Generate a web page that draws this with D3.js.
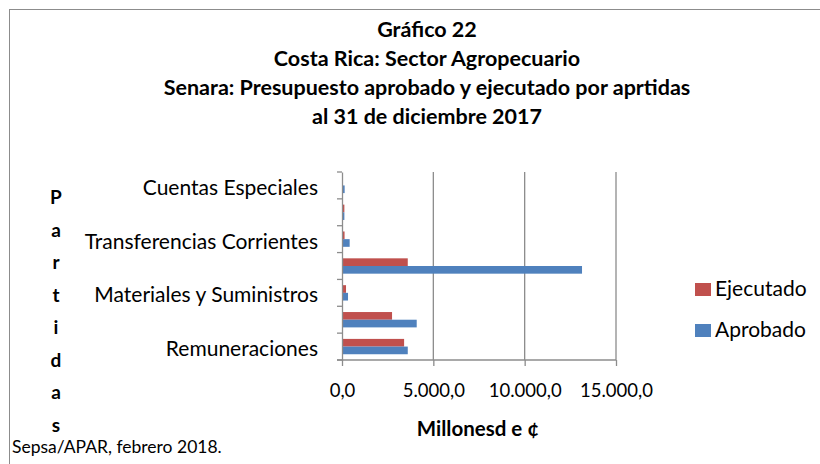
<!DOCTYPE html>
<html><head><meta charset="utf-8">
<script src="https://cdn.jsdelivr.net/npm/d3@7"></script>
<style>body{margin:0;background:#fff}svg{display:block}</style>
</head><body>
<svg id="c" width="820" height="464"></svg>
<script>
const categories = ["Remuneraciones","Servicios","Materiales y Suministros","Bienes Duraderos","Transferencias Corrientes","Transferencias de Capital","Cuentas Especiales"];
const showLabel = [true,false,true,false,true,false,true];
const aprobado = [3600,4090,330,13140,420,130,145];
const ejecutado = [3400,2740,220,3600,140,130,0];
const series = ["Ejecutado","Aprobado"];
const colors = {"Ejecutado":"#C0504D","Aprobado":"#4F81BD"};
const xTicks = [0,5000,10000,15000];
const titleLines = ["Gráfico 22","Costa Rica: Sector Agropecuario","Senara: Presupuesto aprobado  y ejecutado por aprtidas","al 31 de diciembre 2017"];
const yTitle = "Partidas";

const font = "Lato, 'Open Sans', sans-serif";
const svg = d3.select("#c");
svg.append("rect").attr("x",9.5).attr("y",9.5).attr("width",830).attr("height",480).attr("fill","#fff").attr("stroke","#8c8c8c").attr("stroke-width",1);

const m = {l:342, r:616, t:172, b:360};
const x = d3.scaleLinear().domain([0,15000]).range([m.l,m.r]);
const y = d3.scaleBand().domain(categories.slice().reverse()).range([m.t,m.b]);
const bw = y.bandwidth()/3.5;
const ySub = d3.scaleBand().domain(series).range([0.75*bw, 2.75*bw]);

// gridlines
svg.append("g").selectAll("line").data(xTicks.slice(1)).join("line")
  .attr("x1",d=>x(d)).attr("x2",d=>x(d)).attr("y1",m.t).attr("y2",m.b)
  .attr("stroke","#8c8c8c").attr("stroke-width",1.3);

// bars
const data = categories.map((c,i)=>({c, Ejecutado:ejecutado[i], Aprobado:aprobado[i]}));
const g = svg.append("g");
data.forEach(d=>{
  series.forEach(s=>{
    if(d[s]<=0) return;
    g.append("rect").attr("x",x(0)).attr("y",y(d.c)+ySub(s)).attr("width",x(d[s])-x(0)).attr("height",ySub.bandwidth())
     .attr("fill",colors[s]);
  });
});

// axes
const xa = svg.append("g").attr("transform",`translate(0,${m.b})`)
  .call(d3.axisBottom(x).tickValues(xTicks).tickSize(6).tickFormat(d=>d3.format(",.1f")(d).replace(/,/g,"X").replace(".",",").replace(/X/g,".")));
xa.select(".domain").attr("stroke","#8c8c8c").attr("stroke-width",1.3).attr("d",`M${m.l-5},0H${m.r}`);
xa.selectAll(".tick line").attr("stroke","#8c8c8c").attr("stroke-width",1.3);
xa.selectAll("text").attr("font-family",font).attr("font-size",18.5).attr("fill","#000").attr("y",24).attr("dy","0.71em");

const ya = svg.append("g").attr("transform",`translate(${m.l},0)`)
  .call(d3.axisLeft(y).tickSize(0).tickPadding(24).tickFormat((d)=>showLabel[categories.indexOf(d)]?d:""));
ya.select(".domain").attr("stroke","#8c8c8c").attr("stroke-width",1.3);
ya.selectAll("text").attr("font-family",font).attr("font-size",21).attr("fill","#000").attr("dy","0.45em");
// band boundary ticks
const bounds = categories.map(c=>y(c)).concat([m.b]);
svg.append("g").selectAll("line").data(bounds).join("line")
  .attr("x1",m.l-5).attr("x2",m.l).attr("y1",d=>d).attr("y2",d=>d)
  .attr("stroke","#8c8c8c").attr("stroke-width",1.3);

// titles
svg.append("g").selectAll("text").data(titleLines).join("text")
  .attr("x",427).attr("y",(d,i)=>37+i*29).attr("text-anchor","middle")
  .attr("font-family",font).attr("font-weight","bold").attr("font-size",21.5).text(d=>d);

// y title stacked
svg.append("g").selectAll("text").data(yTitle.split("")).join("text")
  .attr("x",56).attr("y",(d,i)=>204+i*32.5).attr("text-anchor","middle")
  .attr("font-family",font).attr("font-weight","bold").attr("font-size",19).text(d=>d);

svg.append("text").attr("x",478).attr("y",436).attr("text-anchor","middle")
  .attr("font-family",font).attr("font-weight","bold").attr("font-size",20.5).text("Millonesd e ¢");

// legend
const leg = svg.append("g");
series.forEach((s,i)=>{
  leg.append("rect").attr("x",695).attr("y",283+i*41).attr("width",16).attr("height",13).attr("fill",colors[s]);
  leg.append("text").attr("x",715).attr("y",296+i*41).attr("font-family",font).attr("font-size",21).text(s);
});

svg.append("text").attr("x",12).attr("y",453).attr("font-family",font).attr("font-size",17.5).text("Sepsa/APAR, febrero 2018.");
</script>
</body></html>
